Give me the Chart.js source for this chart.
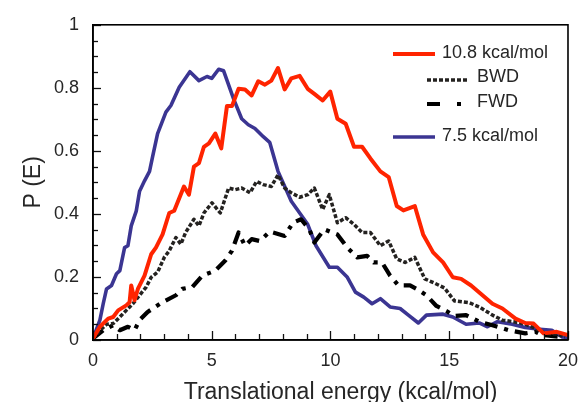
<!DOCTYPE html>
<html>
<head>
<meta charset="utf-8">
<script src="https://cdn.jsdelivr.net/npm/chart.js@4/dist/chart.umd.min.js"></script>
<style>
  html, body { margin: 0; padding: 0; background: #fff; }
  #wrap { width: 588px; height: 402px; }
</style>
</head>
<body>
<div id="wrap"><canvas id="c" width="588" height="402"></canvas></div>
<script>
// Translational energy distributions P(E)
const seriesLabels = ['10.8 kcal/mol', 'BWD', 'FWD', '7.5 kcal/mol'];
const xTitle = 'Translational energy (kcal/mol)';
const yTitle = 'P (E)';

const energyHigh = [0, 0.29, 0.64, 0.85, 1.06, 1.40, 1.54, 1.61, 1.75, 1.89, 2.17, 2.45, 2.65, 2.93, 3.21, 3.42, 3.83, 4.04, 4.25, 4.46, 4.67, 4.88, 5.15, 5.40, 5.64, 5.85, 6.13, 6.40, 6.68, 6.96, 7.24, 7.51, 7.79, 8.07, 8.35, 8.70, 9.04, 9.32, 9.67, 9.99, 10.29, 10.64, 10.99, 11.33, 11.68, 12.10, 12.45, 12.79, 13.07, 13.55, 13.90, 14.32, 14.74, 15.15, 15.50, 15.92, 16.40, 16.82, 17.24, 17.79, 18.20, 18.55, 18.97, 19.53, 20.0];
const probHigh   = [0.005, 0.042, 0.068, 0.073, 0.094, 0.110, 0.120, 0.173, 0.126, 0.162, 0.204, 0.272, 0.293, 0.335, 0.403, 0.410, 0.487, 0.461, 0.550, 0.561, 0.613, 0.624, 0.655, 0.608, 0.742, 0.742, 0.797, 0.795, 0.776, 0.821, 0.810, 0.823, 0.863, 0.795, 0.830, 0.838, 0.797, 0.781, 0.760, 0.788, 0.702, 0.686, 0.613, 0.613, 0.576, 0.535, 0.517, 0.425, 0.411, 0.425, 0.335, 0.278, 0.246, 0.199, 0.194, 0.173, 0.142, 0.115, 0.100, 0.068, 0.054, 0.052, 0.021, 0.026, 0.016];

const energyBwd = [0, 0.29, 0.57, 0.85, 1.13, 1.40, 1.68, 1.96, 2.24, 2.45, 2.72, 3.00, 3.21, 3.49, 3.70, 3.90, 4.25, 4.46, 4.67, 5.01, 5.36, 5.71, 5.99, 6.26, 6.61, 6.89, 7.17, 7.51, 7.79, 8.07, 8.35, 8.70, 9.04, 9.32, 9.67, 9.95, 10.29, 10.64, 10.99, 11.33, 11.68, 12.10, 12.45, 12.79, 13.14, 13.55, 13.97, 14.39, 14.80, 15.22, 15.85, 16.26, 16.82, 17.24, 17.72, 18.20, 18.63, 19.04, 19.53, 19.88];
const probBwd   = [0.005, 0.030, 0.050, 0.052, 0.073, 0.094, 0.115, 0.142, 0.168, 0.199, 0.215, 0.262, 0.283, 0.325, 0.304, 0.341, 0.383, 0.362, 0.403, 0.435, 0.403, 0.482, 0.477, 0.482, 0.467, 0.503, 0.493, 0.487, 0.524, 0.482, 0.467, 0.453, 0.461, 0.482, 0.414, 0.461, 0.372, 0.388, 0.367, 0.341, 0.341, 0.299, 0.314, 0.257, 0.246, 0.262, 0.194, 0.180, 0.165, 0.124, 0.118, 0.105, 0.079, 0.063, 0.058, 0.050, 0.037, 0.021, 0.019, 0.010];

const energyFwd = [0, 0.43, 0.85, 1.13, 1.47, 1.75, 1.96, 2.30, 2.93, 3.49, 3.76, 4.18, 4.60, 5.15, 5.57, 5.85, 6.13, 6.40, 6.68, 7.03, 7.44, 8.07, 8.42, 8.76, 9.11, 9.32, 9.74, 10.29, 10.71, 11.13, 11.54, 11.82, 12.17, 12.51, 12.86, 13.35, 13.63, 14.04, 14.46, 14.88, 15.22, 15.71, 16.26, 16.82, 17.51, 18.20, 18.63, 18.90, 19.60];
const probFwd   = [0.005, 0.031, 0.047, 0.031, 0.042, 0.031, 0.063, 0.089, 0.120, 0.142, 0.162, 0.168, 0.204, 0.220, 0.252, 0.283, 0.341, 0.299, 0.320, 0.314, 0.344, 0.330, 0.372, 0.383, 0.351, 0.309, 0.351, 0.335, 0.293, 0.262, 0.267, 0.246, 0.246, 0.204, 0.173, 0.173, 0.162, 0.142, 0.108, 0.092, 0.076, 0.079, 0.058, 0.047, 0.031, 0.021, 0.026, 0.016, 0.010];

const energyLow = [0, 0.29, 0.43, 0.57, 0.78, 0.99, 1.13, 1.33, 1.47, 1.61, 1.82, 1.96, 2.17, 2.38, 2.51, 2.72, 3.07, 3.28, 3.63, 4.08, 4.46, 4.80, 5.00, 5.29, 5.50, 5.92, 6.26, 6.54, 6.82, 7.17, 7.44, 7.79, 8.35, 9.04, 9.39, 9.95, 10.29, 10.71, 11.05, 11.40, 11.75, 12.10, 12.51, 12.93, 13.28, 13.70, 14.04, 14.74, 15.15, 15.71, 16.26, 16.61, 17.03, 17.65, 18.20, 18.70, 19.32, 19.74, 20.0];
const probLow   = [0.005, 0.063, 0.115, 0.162, 0.173, 0.210, 0.220, 0.293, 0.299, 0.362, 0.409, 0.472, 0.505, 0.535, 0.582, 0.655, 0.723, 0.744, 0.802, 0.851, 0.823, 0.836, 0.830, 0.859, 0.854, 0.765, 0.702, 0.683, 0.671, 0.645, 0.627, 0.535, 0.440, 0.367, 0.299, 0.231, 0.231, 0.199, 0.152, 0.136, 0.115, 0.131, 0.105, 0.100, 0.079, 0.054, 0.079, 0.082, 0.073, 0.050, 0.054, 0.042, 0.058, 0.050, 0.040, 0.035, 0.031, 0.010, 0.008];

// axis ranges and tick steps
const xRange = [0, 20];
const yRange = [0, 1];
const xMajorStep = 5, xMinorStep = 1;
const yMajorStep = 0.2, yMinorStep = 0.05;

const toPoints = (xs, ys) => xs.map((x, i) => ({ x: x, y: ys[i] }));

const FONT = "'Liberation Sans', Arial, sans-serif";
const TEXT = '#262626';

// inward ticks, closed frame and axis titles
const framePlugin = {
  id: 'frame',
  afterDraw(chart, args, opts) {
    const { ctx, chartArea: a, scales: { x, y } } = chart;
    ctx.save();
    ctx.strokeStyle = '#111';
    ctx.lineWidth = 1.3;
    for (let i = 0; i <= Math.round((xRange[1] - xRange[0]) / xMinorStep); i++) {
      const v = xRange[0] + i * xMinorStep;
      const px = Math.round(x.getPixelForValue(v)) + 0.5;
      const major = Math.abs(v / xMajorStep - Math.round(v / xMajorStep)) < 1e-6;
      const len = major ? 9 : 6;
      ctx.beginPath(); ctx.moveTo(px, a.bottom); ctx.lineTo(px, a.bottom - len); ctx.stroke();
    }
    for (let i = 0; i <= Math.round((yRange[1] - yRange[0]) / yMinorStep); i++) {
      const v = yRange[0] + i * yMinorStep;
      const py = Math.round(y.getPixelForValue(v)) + 0.5;
      const major = Math.abs(v / yMajorStep - Math.round(v / yMajorStep)) < 1e-6;
      const len = major ? 8 : 5;
      ctx.beginPath(); ctx.moveTo(a.left, py); ctx.lineTo(a.left + len, py); ctx.stroke();
    }
    ctx.lineWidth = 1.6;
    ctx.strokeStyle = '#000';
    ctx.strokeRect(a.left, a.top, a.right - a.left, a.bottom - a.top);

    // axis titles
    ctx.fillStyle = TEXT;
    ctx.font = opts.titleFont;
    ctx.textBaseline = 'alphabetic';
    ctx.textAlign = 'center';
    ctx.fillText(xTitle, (a.left + a.right) / 2 + opts.xTitleShift, opts.xTitleBaseline);
    ctx.translate(opts.yTitleBaseline, (a.top + a.bottom) / 2);
    ctx.rotate(-Math.PI / 2);
    ctx.fillText(yTitle, 0, 0);
    ctx.restore();
  }
};

// legend drawn inside the plot area, upper right
const insideLegend = {
  id: 'insideLegend',
  afterDraw(chart, args, opts) {
    const { ctx } = chart;
    ctx.save();
    ctx.font = opts.font;
    ctx.fillStyle = TEXT;
    ctx.textBaseline = 'middle';
    ctx.textAlign = 'left';
    opts.entries.forEach((e, i) => {
      const ds = chart.data.datasets[i];
      ctx.strokeStyle = ds.borderColor;
      ctx.lineWidth = ds.borderWidth;
      ctx.setLineDash(e.dash || ds.borderDash || []);
      ctx.beginPath(); ctx.moveTo(e.x0, e.y); ctx.lineTo(e.x1, e.y); ctx.stroke();
      ctx.setLineDash([]);
      ctx.fillText(ds.label, e.tx, e.ty);
    });
    ctx.restore();
  }
};

const tickLabel = v => String(Number(v.toFixed(2)));

new Chart(document.getElementById('c'), {
  type: 'line',
  data: {
    datasets: [
      { label: seriesLabels[0], data: toPoints(energyHigh, probHigh), borderColor: '#ff2400', borderWidth: 4 },
      { label: seriesLabels[1], data: toPoints(energyBwd, probBwd), borderColor: '#242220', borderWidth: 3.5, borderDash: [4, 2] },
      { label: seriesLabels[2], data: toPoints(energyFwd, probFwd), borderColor: '#000000', borderWidth: 4.2, borderDash: [13, 7, 4, 7] },
      { label: seriesLabels[3], data: toPoints(energyLow, probLow), borderColor: '#3b3592', borderWidth: 3.6 }
    ]
  },
  options: {
    responsive: false,
    animation: false,
    devicePixelRatio: 1,
    layout: { padding: { left: 0, right: 15, top: 22, bottom: 0 } },
    elements: { point: { radius: 0 }, line: { tension: 0, borderJoinStyle: 'round' } },
    plugins: {
      legend: { display: false },
      tooltip: { enabled: false },
      frame: { titleFont: `23px ${FONT}`, xTitleShift: 10, xTitleBaseline: 399, yTitleBaseline: 40 },
      insideLegend: {
        font: `18px ${FONT}`,
        entries: [
          { x0: 393, x1: 435, y: 54, tx: 442, ty: 53 },
          { x0: 427, x1: 467, y: 80, tx: 477, ty: 77 },
          { x0: 427, x1: 462, y: 104, tx: 477, ty: 102, dash: [13, 17, 4, 40] },
          { x0: 393, x1: 435, y: 137, tx: 442, ty: 136 }
        ]
      }
    },
    scales: {
      x: {
        type: 'linear',
        min: xRange[0], max: xRange[1],
        afterFit: s => { s.height = 62; },
        grid: { display: false, drawTicks: false },
        border: { display: true, color: '#000', width: 1.6 },
        ticks: { stepSize: xMajorStep, padding: 10, color: TEXT, font: { family: FONT, size: 18 }, callback: tickLabel },
        title: { display: false }
      },
      y: {
        type: 'linear',
        min: yRange[0], max: yRange[1],
        afterFit: s => { s.width = 93; },
        grid: { display: false, drawTicks: false },
        border: { display: true, color: '#000', width: 1.6 },
        ticks: { stepSize: yMajorStep, padding: 14, color: TEXT, font: { family: FONT, size: 18 }, callback: tickLabel },
        title: { display: false }
      }
    }
  },
  plugins: [framePlugin, insideLegend]
});
</script>
</body>
</html>
